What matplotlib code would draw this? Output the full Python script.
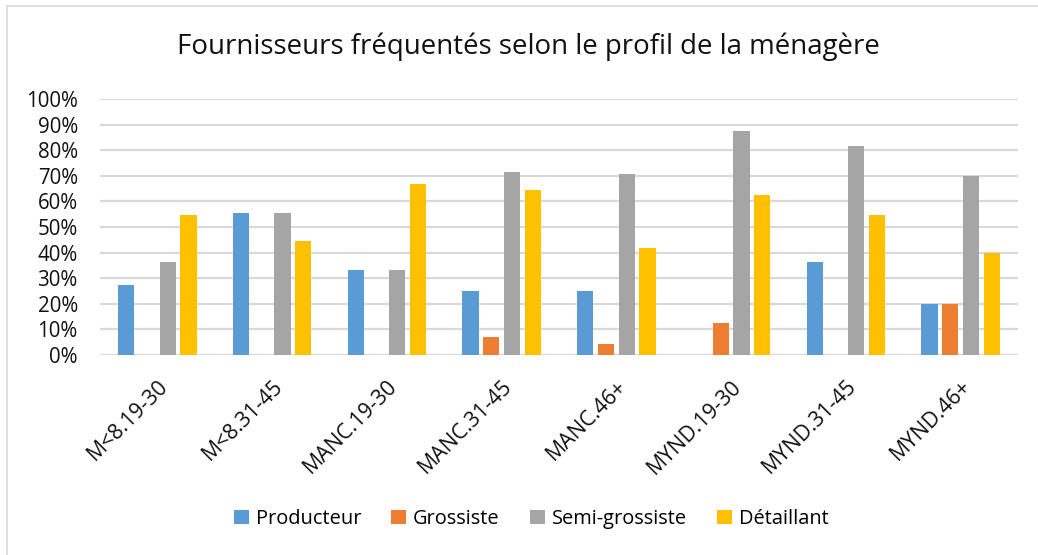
"""Grouped bar chart: fournisseurs fréquentés selon le profil de la ménagère."""

import matplotlib

matplotlib.use("Agg")
import matplotlib.pyplot as plt
import numpy as np
from matplotlib.patches import Patch
from matplotlib.lines import Line2D
from matplotlib.ticker import PercentFormatter

plt.rcParams["font.family"] = ["Open Sans", "DejaVu Sans"]

PROFILES = [
    "M<8.19-30", "M<8.31-45", "MANC.19-30", "MANC.31-45",
    "MANC.46+", "MYND.19-30", "MYND.31-45", "MYND.46+",
]
SERIES = ["Producteur", "Grossiste", "Semi-grossiste", "Détaillant"]
COLORS = ["#5B9BD5", "#ED7D31", "#A5A5A5", "#FFC000"]

producteur = [27.27, 55.56, 33.33, 25.0, 25.0, 0.0, 36.36, 20.0]
grossiste = [0.0, 0.0, 0.0, 7.14, 4.17, 12.5, 0.0, 20.0]
semi_grossiste = [36.36, 55.56, 33.33, 71.43, 70.83, 87.5, 81.82, 70.0]
detaillant = [54.55, 44.44, 66.67, 64.29, 41.67, 62.5, 54.55, 40.0]

W, H = 1038, 555


def main() -> int:
    fig = plt.figure(figsize=(W / 100, H / 100), dpi=100)
    ax = fig.add_axes([100 / W, 1 - 355 / H, 918 / W, 256 / H])

    values = [producteur, grossiste, semi_grossiste, detaillant]
    x = np.arange(len(PROFILES))
    slot = 0.181
    for k, (vals, color) in enumerate(zip(values, COLORS)):
        ax.bar(x + (k - 1.5) * slot, vals, width=0.14, color=color,
               linewidth=0, zorder=3)

    ax.set_xlim(-0.5, len(PROFILES) - 0.5)
    ax.set_ylim(0, 100)
    ax.set_yticks(np.arange(0, 101, 10))
    ax.yaxis.set_major_formatter(PercentFormatter(decimals=0))
    ax.grid(axis="y", color="#D9D9D9", linewidth=1.6, zorder=0)
    for side in ("top", "right", "left", "bottom"):
        ax.spines[side].set_visible(False)
    ax.tick_params(axis="both", length=0, labelsize=14.8, labelcolor="#111111")
    ax.tick_params(axis="y", pad=16)

    ax.set_xticks(x)
    ax.set_xticklabels(PROFILES, rotation=45, ha="right",
                       rotation_mode="anchor", fontsize=15.3)
    ax.tick_params(axis="x", pad=15)

    fig.text(528 / W, 1 - 47 / H,
             "Fournisseurs fréquentés selon le profil de la ménagère",
             ha="center", va="center", fontsize=19.9, color="#111111")

    handles = [Patch(facecolor=c, edgecolor="none") for c in COLORS]
    fig.legend(handles, SERIES, loc="center", ncol=4,
               bbox_to_anchor=(531 / W, 1 - 519 / H), frameon=False,
               fontsize=14.4, handlelength=0.75, handleheight=0.75,
               handletextpad=0.35, columnspacing=1.5)

    # chart area border (only top/left visible in the reference crop)
    fig.add_artist(Line2D([7 / W, 7 / W], [0, 1 - 6 / H], transform=fig.transFigure,
                          color="#D9D9D9", linewidth=1.2))
    fig.add_artist(Line2D([7 / W, 1], [1 - 6 / H, 1 - 6 / H], transform=fig.transFigure,
                          color="#D9D9D9", linewidth=1.2))

    fig.savefig("out.png", dpi=100)
    plt.close(fig)
    return 0


if __name__ == "__main__":
    raise SystemExit(main())
